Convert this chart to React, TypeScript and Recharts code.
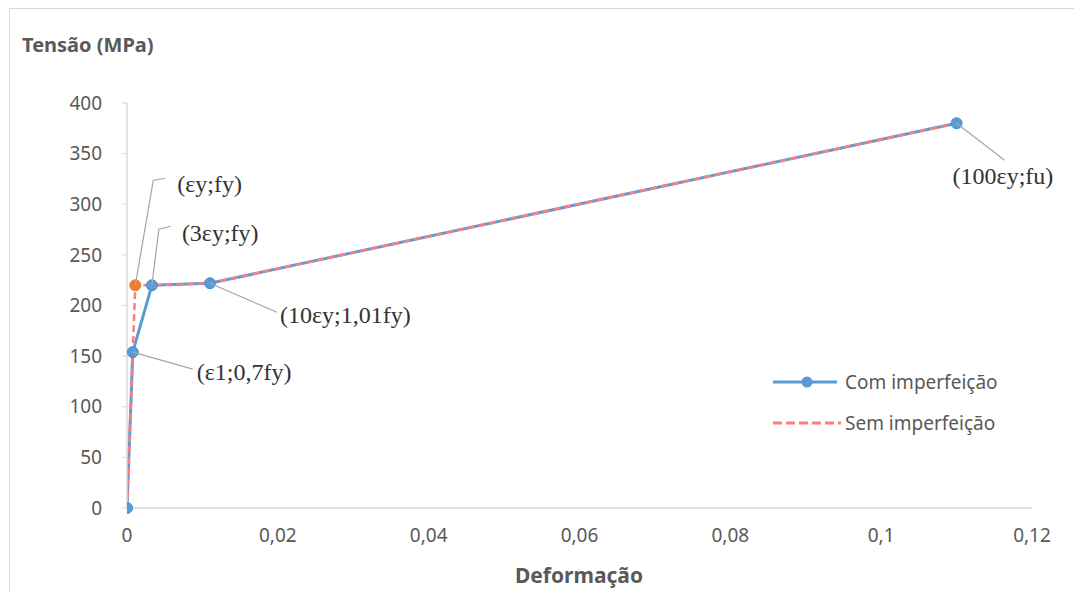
import React from "react";
import { LineChart, Line, XAxis, YAxis, LabelList } from "recharts";

// Curva tensão-deformação
const strainCom = [0, 0.00077, 0.0033, 0.011, 0.11];
const stressCom = [0, 154, 220, 222, 380];
const strainSem = [0, 0.0011, 0.0033, 0.011, 0.11];
const stressSem = [0, 220, 220, 222, 380];

const xTicks = [0, 0.02, 0.04, 0.06, 0.08, 0.1, 0.12];
const yTicks = [0, 50, 100, 150, 200, 250, 300, 350, 400];

const labelsCom = ["", "(ε1;0,7fy)", "(3εy;fy)", "(10εy;1,01fy)", "(100εy;fu)"];
const labelsSem = ["", "(εy;fy)", "", "", ""];

const comData = strainCom.map((x, i) => ({ x, y: stressCom[i], label: labelsCom[i] }));
const semData = strainSem.map((x, i) => ({ x, y: stressSem[i], label: labelsSem[i] }));

const BLUE = "#5B9BD5";
const RED = "#FF7C80";
const ORANGE = "#ED7D31";
const GREY = "#595959";
const LEADER = "#a6a6a6";

// leader line: bend points + text start, relative to the data point
const leaderCom: Record<number, { pts: number[][]; tx: number; ty: number }> = {
  1: { pts: [[60, 17]], tx: 64, ty: 20 },
  2: { pts: [[7, -56], [19, -59]], tx: 30, ty: -52 },
  3: { pts: [[67, 29]], tx: 70, ty: 32 },
  4: { pts: [[48, 37]], tx: -4, ty: 53 },
};
const leaderSem: Record<number, { pts: number[][]; tx: number; ty: number }> = {
  1: { pts: [[18, -105], [30, -107]], tx: 42, ty: -101 },
};

function makeLabel(cfg: Record<number, { pts: number[][]; tx: number; ty: number }>) {
  return (props: any) => {
    const { x, y, index, value } = props;
    const c = cfg[index];
    if (!c || !value) return null;
    const d =
      `M${x},${y}` + c.pts.map((p) => ` L${x + p[0]},${y + p[1]}`).join("");
    return (
      <g key={`lbl-${index}`}>
        <path d={d} stroke={LEADER} strokeWidth={1.2} fill="none" />
        <text
          x={x + c.tx}
          y={y + c.ty}
          dominantBaseline="central"
          fontFamily="'Liberation Serif', 'Times New Roman', serif"
          fontSize={24}
          fill="#333333"
        >
          {value}
        </text>
      </g>
    );
  };
}

const semDot = (props: any) => {
  const { cx, cy, index } = props;
  if (index !== 1) return <g key={`sd-${index}`} />;
  return <circle key={`sd-${index}`} cx={cx} cy={cy} r={5.5} fill={ORANGE} stroke={ORANGE} />;
};

const fmt = (v: number) => String(v).replace(".", ",");

export default function App() {
  return (
    <div style={{ position: "relative", width: 1074, height: 584, fontFamily: "'Noto Sans', sans-serif" }}>
      <div
        style={{
          position: "absolute",
          left: 1,
          top: 0,
          right: 0,
          bottom: 0,
          borderTop: "1px solid #d9d9d9",
          borderLeft: "1px solid #d9d9d9",
        }}
      />
      <div
        style={{
          position: "absolute",
          left: 14,
          top: 24,
          lineHeight: "26px",
          fontSize: 20,
          fontWeight: 700,
          color: GREY,
        }}
      >
        Tensão (MPa)
      </div>
      <div
        style={{
          position: "absolute",
          left: 471,
          width: 200,
          top: 554,
          lineHeight: "26px",
          textAlign: "center",
          fontSize: 21,
          fontWeight: 700,
          color: GREY,
        }}
      >
        Deformação
      </div>
      <div style={{ position: "absolute", left: 0, top: 0 }}>
        <LineChart width={1074} height={584} margin={{ top: 95, right: 50, bottom: 54, left: 0 }}>
          <XAxis
            type="number"
            dataKey="x"
            domain={[0, 0.12]}
            ticks={xTicks}
            tickFormatter={fmt}
            tickLine={false}
            tickMargin={15}
            axisLine={{ stroke: "#d9d9d9", strokeWidth: 1.5 }}
            tick={{ fill: GREY, fontSize: 19 }}
            height={30}
            allowDataOverflow
          />
          <YAxis
            type="number"
            dataKey="y"
            domain={[0, 400]}
            ticks={yTicks}
            width={119}
            tickSize={5}
            tickMargin={20}
            tickLine={{ stroke: "#d9d9d9" }}
            axisLine={{ stroke: "#d9d9d9", strokeWidth: 1.5 }}
            tick={{ fill: GREY, fontSize: 19 }}
          />
          <Line
            data={comData}
            dataKey="y"
            type="linear"
            stroke={BLUE}
            strokeWidth={3}
            dot={{ r: 5.5, fill: BLUE, stroke: "#4F8DC9", strokeWidth: 1 }}
            isAnimationActive={false}
          >
            <LabelList dataKey="label" content={makeLabel(leaderCom)} />
          </Line>
          <Line
            data={semData}
            dataKey="y"
            type="linear"
            stroke={RED}
            strokeWidth={2.5}
            strokeDasharray="7 4"
            dot={semDot}
            isAnimationActive={false}
          >
            <LabelList dataKey="label" content={makeLabel(leaderSem)} />
          </Line>
        </LineChart>
      </div>
      <svg
        width={280}
        height={80}
        style={{ position: "absolute", left: 760, top: 350 }}
      >
        <line x1={5} y1={24} x2={69} y2={24} stroke={BLUE} strokeWidth={3} />
        <circle cx={39} cy={24} r={5.5} fill={BLUE} />
        <text x={77} y={24} dominantBaseline="central" fontSize={19} fill={GREY} fontFamily="'Noto Sans', sans-serif">
          Com imperfeição
        </text>
        <line x1={5} y1={65} x2={73} y2={65} stroke={RED} strokeWidth={3} strokeDasharray="9 4" />
        <text x={77} y={65} dominantBaseline="central" fontSize={19} fill={GREY} fontFamily="'Noto Sans', sans-serif">
          Sem imperfeição
        </text>
      </svg>
    </div>
  );
}
